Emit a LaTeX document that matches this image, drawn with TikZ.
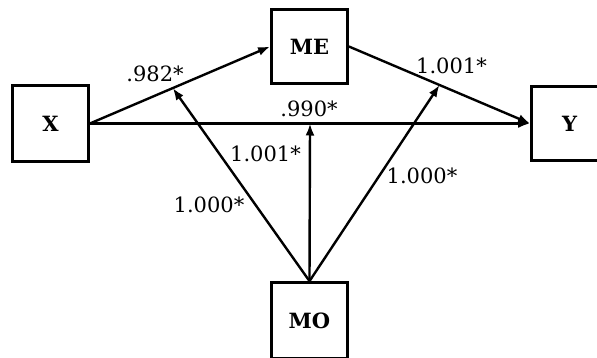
\documentclass[tikz,border=0pt]{standalone}
\usepackage{fontspec}
\setmainfont{DejaVu Serif}
\usetikzlibrary{arrows.meta}
\begin{document}
\begin{tikzpicture}[x=1pt,y=-1pt,
  varbox/.style={draw=black,line width=2.8pt,minimum width=76pt,minimum height=76pt,inner sep=0pt,
    font=\fontsize{21}{24}\selectfont\bfseries},
  path/.style={line width=2.4pt,-{Latex[length=12pt,width=9pt]}},
  coef/.style={font=\fontsize{21}{24}\selectfont,inner sep=0pt}]
\useasboundingbox (0,0) rectangle (597,358);
\node[varbox] (X) at (50.5,123.5) {X};
\node[varbox,minimum height=74.5pt] (ME) at (309.5,46.5) {ME};
\node[varbox,minimum height=74.5pt] (Y) at (569.5,123.5) {Y};
\node[varbox] (MO) at (309.5,320.5) {MO};
\draw[path] (X.east) -- coordinate[pos=0.46] (c1) (ME.west);
\draw[path] (X.east) -- coordinate[pos=0.5] (c2) (Y.west);
\draw[path] (ME.east) -- coordinate[pos=0.5] (c3) (Y.west);
\draw[path] (MO.north) -- (c1);
\draw[path] (MO.north) -- (c2);
\draw[path] (MO.north) -- (c3);
\node[coef] (l1) at (155,73.5) {.982*};
\node[coef] (l2) at (309,108.5) {.990*};
\node[coef] (l3) at (451.5,66) {1.001*};
\node[coef] (l4) at (265.5,153.5) {1.001*};
\node[coef] (l5) at (209,205) {1.000*};
\node[coef] (l6) at (422,176) {1.000*};
\end{tikzpicture}
\end{document}
